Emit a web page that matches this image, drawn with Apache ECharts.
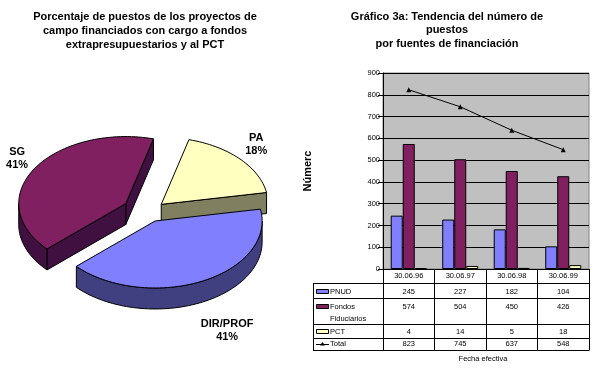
<!DOCTYPE html>
<html><head><meta charset="utf-8">
<script src="https://cdn.jsdelivr.net/npm/echarts@6/dist/echarts.min.js"></script>
<style>html,body{margin:0;padding:0;background:#fff}#c{width:596px;height:374px}</style>
</head><body><div id="c"></div>
<script>
// ---------- data ----------
const pieTitle = "Porcentaje de puestos de los proyectos de\ncampo financiados con cargo a fondos\nextrapresupuestarios y al PCT";
const pieLabels = ["PA", "DIR/PROF", "SG"];
const pieValues = [18, 41, 41];

const barTitle = "Gráfico 3a: Tendencia del número de\npuestos\npor fuentes de financiación";
const categories = ["30.06.96", "30.06.97", "30.06.98", "30.06.99"];
const seriesNames = ["PNUD", "Fondos Fiduciarios", "PCT", "Total"];
const tableRowLabels = ["PNUD", "Fondos\nFiduciarios", "PCT", "Total"];
const pnud = [245, 227, 182, 104];
const fondos = [574, 504, 450, 426];
const pct = [4, 14, 5, 18];
const total = [823, 745, 637, 548];
const yMin = 0, yMax = 900, yStep = 100;
const yAxisName = "Númerc";
const xAxisName = "Fecha efectiva";

// ---------- styles ----------
const FONT = '"Liberation Sans", Arial, sans-serif';
const PIE = { cx: 148, cy: 212, rx: 107, ry: 67, depth: 21, start: 75 };
const pieTop = ['#FFFFC0', '#8080FF', '#802060'];
const pieSide = ['#808060', '#404080', '#401040'];
const explode = [18, 16, 26];
const labelDist = [22, 55, 20];
const barColors = ['#8080FF', '#802060', '#FFFFC0', '#000000'];

const pieSum = pieValues.reduce((a, b) => a + b, 0);
const R = Math.PI / 180;

function renderPie(params, api) {
  const i = params.dataIndex;
  let before = 0;
  for (let k = 0; k < i; k++) before += pieValues[k];
  const v = api.value(0);
  const a0 = PIE.start - before / pieSum * 360;
  const a1 = a0 - v / pieSum * 360;
  const mid = (a0 + a1) / 2 * R;
  const ax = PIE.cx + explode[i] * Math.cos(mid);
  const ay = PIE.cy - explode[i] * Math.sin(mid) * PIE.ry / PIE.rx;
  const D = PIE.depth;
  const P = (deg, dy) => [ax + PIE.rx * Math.cos(deg * R), ay - PIE.ry * Math.sin(deg * R) + (dy || 0)];
  const arc = (lo, hi, dy) => {
    const pts = [];
    const n = Math.max(2, Math.ceil((hi - lo) / 2));
    for (let j = 0; j <= n; j++) pts.push(P(lo + (hi - lo) * j / n, dy));
    return pts;
  };
  const base = Math.round(ay) * 10;
  const children = [];
  const sideStyle = { fill: pieSide[i], stroke: '#000', lineWidth: 1 };
  const t1 = a1, t2 = a0;
  if (Math.cos(t1 * R) > 0) {
    const e = P(t1);
    children.push({ type: 'polygon', z2: base, shape: { points: [[ax, ay], e, [e[0], e[1] + D], [ax, ay + D]] }, style: sideStyle });
  }
  if (Math.cos(t2 * R) < 0) {
    const e = P(t2);
    children.push({ type: 'polygon', z2: base, shape: { points: [[ax, ay], e, [e[0], e[1] + D], [ax, ay + D]] }, style: sideStyle });
  }
  for (let k = -2; k <= 1; k++) {
    const lo = Math.max(t1, -180 + 360 * k), hi = Math.min(t2, 360 * k);
    if (lo < hi) {
      const top = arc(lo, hi, 0), bot = arc(lo, hi, D).reverse();
      children.push({ type: 'polygon', z2: base + 1, shape: { points: top.concat(bot) }, style: sideStyle });
    }
  }
  children.push({ type: 'polygon', z2: base + 2, shape: { points: [[ax, ay]].concat(arc(t1, t2, 0)) },
    style: { fill: pieTop[i], stroke: '#000', lineWidth: 1 } });
  const lx = ax + (PIE.rx + labelDist[i]) * Math.cos(mid);
  const ly = ay - (PIE.ry + labelDist[i]) * Math.sin(mid);
  children.push({ type: 'text', x: lx, y: ly, z2: 9999,
    style: { text: pieLabels[i] + '\n' + Math.round(v / pieSum * 100) + '%', font: 'bold 11px ' + FONT,
      fill: '#000', align: 'center', verticalAlign: 'middle', lineHeight: 13 } });
  return { type: 'group', children };
}

const chart = echarts.init(document.getElementById('c'), null, { renderer: 'canvas' });
const titleStyle = { fontSize: 11, fontWeight: 'bold', fontFamily: FONT, color: '#000', lineHeight: 14 };
const option = {
  animation: false,
  backgroundColor: '#fff',
  title: [
    { text: pieTitle, left: 145, top: 10, textAlign: 'center', padding: 0, textStyle: titleStyle },
    { text: barTitle, left: 447, top: 10, textAlign: 'center', padding: 0, textStyle: Object.assign({}, titleStyle, { lineHeight: 13.5 }) }
  ],
  grid: { left: 383, right: 7, top: 73, bottom: 105, show: true, backgroundColor: '#C0C0C0', borderColor: '#808080', borderWidth: 1 },
  xAxis: {
    type: 'category', data: categories,
    axisLine: { lineStyle: { color: '#000', width: 1 } },
    axisTick: { show: true, length: 81, lineStyle: { color: '#000' } },
    axisLabel: { color: '#000', fontSize: 7.5, fontFamily: FONT, margin: 3 },
    splitLine: { show: false }
  },
  yAxis: {
    type: 'value', min: yMin, max: yMax, interval: yStep,
    name: yAxisName, nameLocation: 'middle', nameRotate: 90, nameGap: 70,
    nameTextStyle: { fontSize: 11, fontWeight: 'bold', fontFamily: FONT, color: '#000' },
    axisLine: { show: true, lineStyle: { color: '#000' } },
    axisTick: { show: true, length: 5, lineStyle: { color: '#000' } },
    axisLabel: { color: '#000', fontSize: 7.5, fontFamily: FONT, margin: 3 },
    splitLine: { show: true, lineStyle: { color: '#000', width: 1 } }
  },
  series: [
    { name: seriesNames[0], type: 'bar', data: pnud, barGap: '0%', barCategoryGap: '30%', itemStyle: { color: barColors[0], borderColor: '#000', borderWidth: 1 } },
    { name: seriesNames[1], type: 'bar', data: fondos, itemStyle: { color: barColors[1], borderColor: '#000', borderWidth: 1 } },
    { name: seriesNames[2], type: 'bar', data: pct, itemStyle: { color: barColors[2], borderColor: '#000', borderWidth: 1 } },
    { name: seriesNames[3], type: 'line', data: total, symbol: 'triangle', symbolSize: 5,
      lineStyle: { color: '#000', width: 1 }, itemStyle: { color: '#000' }, z: 5 },
    { type: 'custom', coordinateSystem: 'none', renderItem: renderPie,
      data: pieValues.map((v, i) => ({ name: pieLabels[i], value: [v] })) }
  ]
};
chart.setOption(option);

// ---------- data table under the bar chart ----------
const rowBounds = [283, 298, 324, 338, 350];
const rowTextY = [[292], [307, 319], [332], [344]];
const tableLeft = 313;
const plotLeft = 383, plotRight = 589;
const tableVals = [pnud, fondos, pct, total];
const g = [];
const lineStyle = { stroke: '#000', lineWidth: 1 };
rowBounds.forEach(y => g.push({ type: 'line', shape: { x1: tableLeft, y1: y + 0.5, x2: plotRight + 0.5, y2: y + 0.5 }, style: lineStyle }));
g.push({ type: 'line', shape: { x1: tableLeft + 0.5, y1: rowBounds[0], x2: tableLeft + 0.5, y2: rowBounds[4] + 1 }, style: lineStyle });
tableRowLabels.forEach((lab, r) => {
  const ky = rowTextY[r][0];
  if (r < 3) {
    g.push({ type: 'rect', shape: { x: 316.5, y: ky - 2.5, width: 12, height: 4 }, style: { fill: barColors[r], stroke: '#000', lineWidth: 1 } });
  } else {
    g.push({ type: 'line', shape: { x1: 316, y1: ky + 0.5, x2: 329, y2: ky + 0.5 }, style: lineStyle });
    g.push({ type: 'polygon', shape: { points: [[322.5, ky - 2], [320, ky + 1.5], [325, ky + 1.5]] }, style: { fill: '#000' } });
  }
  lab.split('\n').forEach((t, li) => {
    g.push({ type: 'text', x: 330, y: rowTextY[r][li], style: { text: t, font: '7.5px ' + FONT, fill: '#000', align: 'left', verticalAlign: 'middle' } });
  });
  categories.forEach((c, j) => {
    const x = chart.convertToPixel({ xAxisIndex: 0 }, c);
    g.push({ type: 'text', x: x, y: ky, style: { text: String(tableVals[r][j]), font: '7.5px ' + FONT, fill: '#000', align: 'center', verticalAlign: 'middle' } });
  });
});
g.push({ type: 'text', x: 483, y: 359, style: { text: xAxisName, font: '7.5px ' + FONT, fill: '#000', align: 'center', verticalAlign: 'middle' } });
chart.setOption({ graphic: g });
</script>
</body></html>
